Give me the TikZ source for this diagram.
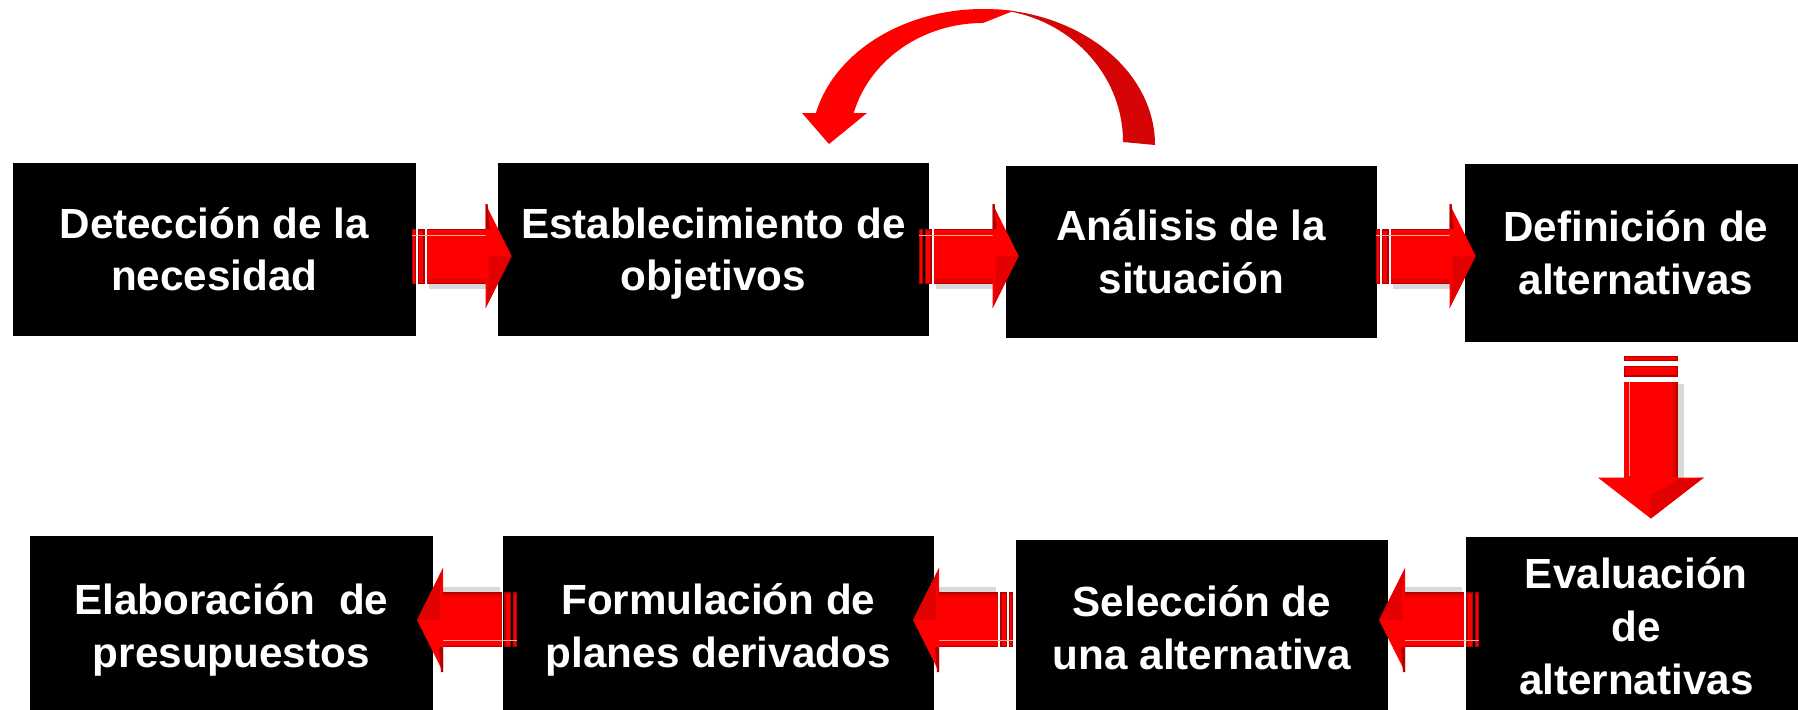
\documentclass[tikz,border=0pt]{standalone}
\usepackage{fontspec}
\setmainfont{Liberation Sans}
\usetikzlibrary{calc}
\definecolor{ared}{HTML}{FF0000}
\definecolor{adark}{HTML}{B00000}
\definecolor{amid}{HTML}{E20000}
\definecolor{alight}{HTML}{FFA8A8}
\definecolor{loopdark}{HTML}{D50505}
\newcommand\lnstrut{\rule[-3pt]{0pt}{14.6pt}}
\tikzset{
  box/.style={fill=black, text=white, inner sep=0pt, anchor=north west, align=center,
    font=\bfseries\fontsize{12}{15}\selectfont},
  harrow/.pic={
    \fill[black,opacity=0.15] (17,-22) rectangle (79,33);
    \fill[adark] (0,-27) rectangle (4,28);
    \fill[ared] (1,-26) rectangle (3,26.5);
    \fill[adark] (6,-27) rectangle (13,28);
    \fill[ared] (7.5,-25.5) rectangle (11.5,26.5);
    \fill[ared] (15,-27) rectangle (77,28);
    \fill[amid] (15,23) rectangle (77,28);
    \fill[adark] (15,26.5) rectangle (77,28);
    \fill[adark] (15,-27) rectangle (77,-26);
    \fill[alight] (0,-21) rectangle (74,-19.8);
    \fill[ared] (74,-52) -- (100,0) -- (74,52) -- cycle;
    \fill[amid] (77,0) -- (100,0) -- (74,52) -- (77,28) -- cycle;
    \fill[adark] (74,-52) -- (76,-52) -- (78,-27) -- (74,-27) -- cycle;
  },
  varrow/.pic={
    \fill[black,opacity=0.15] (-24,28) rectangle (33,125);
    \fill[adark] (-27,0) rectangle (27,5);
    \fill[ared] (-26,1) rectangle (26,4);
    \fill[adark] (-27,10) rectangle (27,21);
    \fill[ared] (-26,11.5) rectangle (26,19.5);
    \fill[ared] (-27,26) rectangle (27,124);
    \fill[alight] (-22,26) rectangle (-20.5,120);
    \fill[amid] (22,26) rectangle (27,124);
    \fill[adark] (25.5,26) rectangle (27,124);
    \fill[ared] (-53,122) -- (0,163) -- (53,122) -- cycle;
    \fill[amid] (0,140) -- (0,163) -- (53,122) -- (27,124) -- cycle;
  }
}
\begin{document}
\begin{tikzpicture}[x=0.01cm, y=-0.01cm]
\useasboundingbox (0,0) rectangle (1798,709);
% boxes, row 1
\node[box, minimum width=4.03cm, minimum height=1.73cm] (b1) at (12,162) {Detección de la\lnstrut\\necesidad\lnstrut};
\node[box, minimum width=4.31cm, minimum height=1.73cm] (b2) at (497,162) {Establecimiento de\lnstrut\\objetivos\lnstrut};
\node[box, minimum width=3.71cm, minimum height=1.72cm] (b3) at (1005,165) {Análisis de la\lnstrut\\situación\lnstrut};
\node[box, minimum width=3.42cm, minimum height=1.78cm] (b4) at (1464,163) {Definición de\lnstrut\\alternativas\lnstrut};
% boxes, row 2
\node[box, minimum width=4.03cm, minimum height=1.80cm] (b5) at (29,535) {Elaboración\ \ de\lnstrut\\presupuestos\lnstrut};
\node[box, minimum width=4.31cm, minimum height=1.80cm] (b6) at (502,535) {Formulación de\lnstrut\\planes derivados\lnstrut};
\node[box, minimum width=3.72cm, minimum height=1.76cm] (b7) at (1015,539) {Selección de\lnstrut\\una alternativa\lnstrut};
\node[box, minimum width=3.41cm, minimum height=1.79cm] (b8) at (1465,536) {Evaluación\lnstrut\\de\lnstrut\\alternativas\lnstrut};
% arrow rows
\coordinate (r1) at (0,256);
\coordinate (r2) at (0,620);
\coordinate (h1) at ($(b1.east |- r1)+(-5,0)$);
\coordinate (h2) at ($(b2.east |- r1)+(-11,0)$);
\coordinate (h3) at ($(b3.east |- r1)+(-2,0)$);
\coordinate (h4) at ($(b8.west |- r2)+(14,0)$);
\coordinate (h5) at ($(b7.west |- r2)+(-2,0)$);
\coordinate (h6) at ($(b6.west |- r2)+(15,0)$);
\coordinate (v1) at ($(b4.south)+(15,13)$);
\pic at (h1) {harrow};
\pic at (h2) {harrow};
\pic at (h3) {harrow};
\pic at (v1) {varrow};
\pic[rotate=180] at (h4) {harrow};
\pic[rotate=180] at (h5) {harrow};
\pic[rotate=180] at (h6) {harrow};
% curved arrow from b3 back to b2
\coordinate (lc) at (983,145);
\fill[loopdark] ($(lc)+(172,0)$) arc[start angle=0, end angle=-90, x radius=172, y radius=136]
  arc[start angle=-90, end angle=0, x radius=140, y radius=133] -- cycle;
\fill[ared] ($(lc)+(29.9,-133.9)$) arc[start angle=-80, end angle=-166.4, x radius=172, y radius=136]
  -- (802,113) -- (829,144) -- (867,113)
  -- ($(lc)+(-129.3,-32)$) arc[start angle=-164.8, end angle=-90, x radius=134, y radius=122] -- cycle;
\end{tikzpicture}
\end{document}
